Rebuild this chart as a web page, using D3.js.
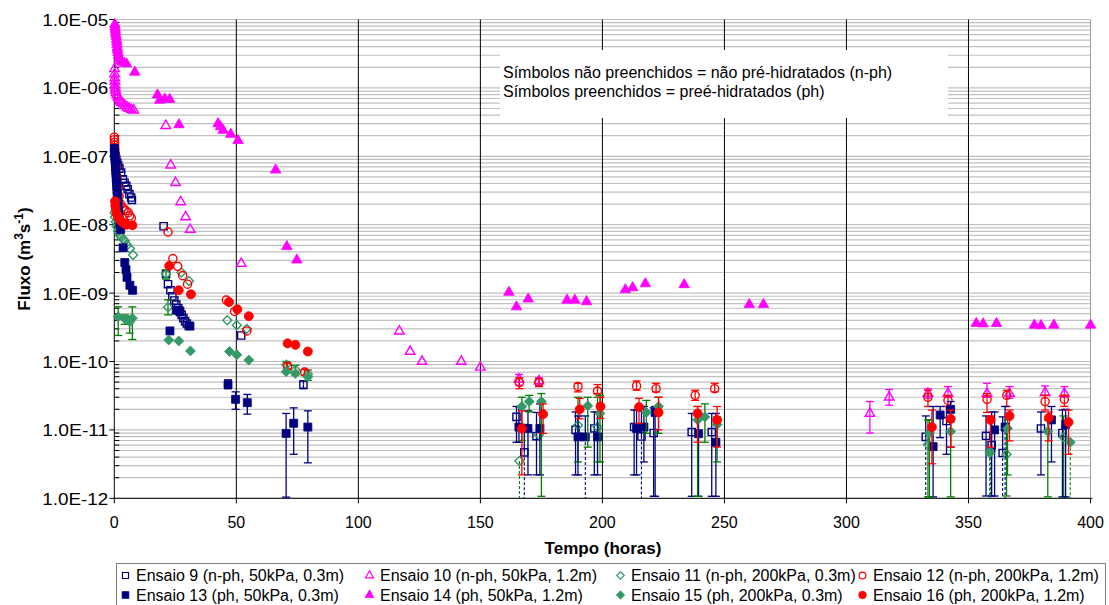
<!DOCTYPE html>
<html><head><meta charset="utf-8">
<script src="https://cdn.jsdelivr.net/npm/d3@7"></script>
<style>body{margin:0;background:#fff} text{font-family:"Liberation Sans",Arial,sans-serif}</style>
</head><body><svg id="c" width="1109" height="605"></svg>
<script>
// ---- data: [tempo (h), fluxo, erroInferior, erroSuperior]; erroInferior 0 = abaixo do eixo
const ensaio9 = [[0.2,1.15e-7],[0.5,1.0e-7],[0.8,9e-8],[1.2,8e-8],[1.6,7.3e-8],[2.1,6.6e-8],[2.8,5.8e-8],[3.5,4.6e-8],[4.2,4.1e-8],[4.9,3.7e-8],[5.5,3.3e-8],[6.2,2.8e-8],[6.9,2.5e-8],[7.2,2.3e-8],
 [20.2,9.5e-9],[21.2,1.9e-9],[22,1.35e-9],[23,1.1e-9],[23.8,9e-10],[24.6,7.8e-10],[25.4,6.8e-10],[26.2,6e-10],[26.9,5.3e-10],[27.6,4.8e-10],[28.3,4.3e-10],[29,3.9e-10],[29.7,3.6e-10],[30.5,3.3e-10],[52,2.4e-10],[77.5,4.6e-11,4.0e-11,5.2e-11],
 [164.8,1.55e-11,6.6e-12,2.2e-11],[168,4.7e-12,0,1.2e-11],[173,8.1e-12,2.2e-12,1.8e-11],[189,1.0e-11,2.2e-12,1.83e-11],[196.7,1.05e-11,2.2e-12,1.83e-11],[213,1.1e-11,2.2e-12,1.95e-11],[216,8e-12,0,2.2e-11],[221,9e-12,1.07e-12,2.1e-11],[236.6,9.3e-12,1.07e-12,1.74e-11],[244.8,9.3e-12,1.07e-12,1.74e-11],
 [332.5,7.9e-12,0,1.6e-11],[341,1.35e-11,4.4e-12,2.2e-11],[357.2,8.2e-12,1.08e-12,1.6e-11],[359.5,6e-12,1.08e-12,1.83e-11],[364,4.6e-12,0,1.55e-11],[379.7,1.05e-11,2.2e-12,1.83e-11],[388.5,9e-12,1.05e-12,1.95e-11]];
const ensaio10 = [[0.1,1.9e-6],[0.15,1.6e-6],[0.2,1.4e-6],[0.25,1.25e-6],[0.3,1.1e-6],[0.4,1.0e-6],[0.5,9.2e-7],[0.7,8.5e-7],[1.0,7.9e-7],[1.5,7.3e-7],[2.0,6.8e-7],[2.5,6.4e-7],[3.0,6.1e-7],[3.7,5.8e-7],[4.4,5.5e-7],[5.2,5.2e-7],[6.0,5.0e-7],[7.0,4.8e-7],[8.0,4.7e-7],
 [21.1,2.8e-7],[23.1,7.4e-8],[25.1,4.1e-8],[27.2,2.15e-8],[29.2,1.3e-8],[31.1,8.5e-9],[52,2.7e-9],
 [116.8,2.77e-10],[121.2,1.4e-10],[126.1,1.0e-10],[142.2,1.0e-10],[150,8.2e-11],[165.8,5.5e-11,4.5e-11,6.5e-11],[174,5.2e-11,4.5e-11,5.8e-11],
 [309.6,1.74e-11,9e-12,2.6e-11],[317.5,3.0e-11,2.3e-11,3.9e-11],[333.4,3.4e-11,2.9e-11,4.0e-11],[341.6,3.4e-11,3.0e-11,4.3e-11],[357.6,3.4e-11,3.0e-11,4.8e-11],[366.8,3.4e-11,2.9e-11,4.3e-11],[381.4,3.5e-11,3.2e-11,4.4e-11],[389.3,3.4e-11,3.0e-11,4.3e-11]];
const ensaio11 = [[0.1,1.5e-8],[0.3,1.3e-8],[0.6,1.1e-8],[1.0,9.3e-9],[1.5,8e-9],[2.2,7e-9],[3,6.5e-9],[3.6,6.2e-9],[4.3,5.8e-9],[5.3,5e-9],[6.4,4.5e-9],[7.7,3.6e-9],
 [21.2,1.9e-9,1.6e-9,2.2e-9],[22,6.2e-10,4.8e-10,8e-10],[27.5,2.0e-9],[30.6,1.5e-9],[46.3,4e-10],[50.2,3.4e-10],[54.3,3.0e-10],[70.5,9e-11,7e-11,1.0e-10],[74.2,7.5e-11,6.3e-11,8.8e-11],[79.3,6.5e-11,5.3e-11,7.5e-11],
 [166,3.5e-12,0,null],[174,8.5e-12],[190,1.17e-11,3.4e-12,3e-11],[198,1.1e-11,3.4e-12,3e-11],[333.4,6.1e-12,1.05e-12,1.4e-11],[359,4.8e-12,0,null],[365.6,4.4e-12,1.08e-12,1.0e-11],[389,7.8e-12,1.05e-12,1.6e-11]];
const ensaio12 = [[0.0,1.9e-7],[0.05,1.75e-7],[0.1,1.6e-7],[0.15,1.45e-7],[0.2,1.3e-7],[0.3,1.15e-7],[0.5,9.5e-8],[0.8,7e-8],[1.2,5e-8],[1.6,3.5e-8],[2.0,2.6e-8],[2.6,2.0e-8],[3.3,1.8e-8],[4.0,1.7e-8],[4.8,1.6e-8],[5.7,1.5e-8],[6.3,1.35e-8],[7.0,1.25e-8],
 [22,7.8e-9],[24,3.2e-9],[26,2.46e-9],[28,1.8e-9],[30,1.35e-9],[45.9,7.9e-10],[49.3,5.4e-10],[54.3,2.8e-10],[71,8.5e-11,7.8e-11,9.5e-11],[78,7e-11,6.3e-11,7.6e-11],
 [166,4.9e-11,4.0e-11,5.8e-11],[174,5.0e-11,4.3e-11,5.6e-11],[190,4.3e-11,3.6e-11,4.8e-11],[198,3.7e-11,3.4e-11,4.6e-11],[214,4.4e-11,3.8e-11,5.2e-11],[222,4.0e-11,3.6e-11,4.8e-11],[238,3.2e-11,2.7e-11,3.8e-11],[246,4.0e-11,3.6e-11,4.8e-11],
 [333.4,3.0e-11,2.2e-11,3.8e-11],[341.6,2.7e-11,2.2e-11,3.2e-11],[357.6,2.8e-11,1.8e-11,3.4e-11],[365.7,3.2e-11,2.2e-11,3.8e-11],[381.4,2.6e-11,1.95e-11,3.2e-11],[389.3,2.8e-11,2.2e-11,3.2e-11]];
const ensaio13 = [[0,1.3e-7],[0.1,1.15e-7],[0.2,1.0e-7],[0.3,9e-8],[0.4,8e-8],[0.5,7e-8],[0.6,6.2e-8],[0.7,5.5e-8],[0.8,4.8e-8],[0.9,4.2e-8],[1.0,3.7e-8],[1.1,3.2e-8],[1.2,2.8e-8],[1.4,2.4e-8],[1.6,2e-8],[1.8,1.6e-8],[2.0,1.3e-8],[2.3,1.05e-8],[2.6,8.5e-9],[3.6,4.6e-9],[4.3,2.8e-9],[4.8,2.2e-9],[5.2,1.7e-9],[6.4,1.3e-9],[7.5,1.1e-9],
 [22.8,2.8e-10],[25.4,5.6e-10],[26.8,5.5e-10],[31,3.3e-10],[46.6,4.6e-11,4.0e-11,5.4e-11],[49.7,2.8e-11,2.0e-11,3.6e-11],[54.5,2.5e-11,1.7e-11,3.3e-11],[70.4,8.9e-12,1.04e-12,1.74e-11],[73.5,1.25e-11,4.4e-12,2.1e-11],[79.3,1.1e-11,3.3e-12,1.9e-11],
 [165.8,1.1e-11,6.6e-12,2.2e-11],[169.5,1.05e-11,2.2e-12,1.9e-11],[174.4,1.05e-11,2.2e-12,2.4e-11],[190,7.9e-12,2.2e-12,1.6e-11],[193,7.9e-12,0,1.6e-11],[198,7.9e-12,2.2e-12,1.83e-11],[214,1.05e-11,2.2e-12,1.95e-11],[217,1.1e-11,3.4e-12,2.2e-11],[221.6,1.8e-11,1.07e-12,2.2e-11],[239.4,8.8e-12,1.07e-12,1.74e-11],[246.5,6.6e-12,1.07e-12,1.74e-11],
 [335.5,5.7e-12,1.05e-12,2.2e-11],[338.4,1.65e-11,7.7e-12,2.2e-11],[342.7,2.0e-11,5.6e-12,2.6e-11],[360.7,1.0e-11,1.08e-12,1.83e-11],[365,1.1e-11,0,2.2e-11],[384,1.4e-11,3.4e-12,2.2e-11],[389.8,1.2e-11,1.05e-12,2.0e-11]];
const ensaio14 = [[0.2,8.5e-6],[0.3,7.8e-6],[0.4,7.2e-6],[0.5,6.6e-6],[0.6,6.1e-6],[0.8,5.6e-6],[0.9,5.1e-6],[1.0,4.7e-6],[1.1,4.3e-6],[1.2,3.9e-6],[1.3,3.6e-6],[1.5,3.3e-6],[1.7,3.0e-6],[2.0,2.7e-6],[2.5,2.5e-6],[3.2,2.4e-6],[4.0,2.3e-6],[5.0,2.25e-6],[8.4,1.7e-6],
 [17.7,7.9e-7],[18.6,6.6e-7],[20.7,6.9e-7],[22.7,6.8e-7],[26.5,2.9e-7],[42.5,3.0e-7],[43.5,2.7e-7],[44.6,2.4e-7],[47.7,2.1e-7],[50.7,1.7e-7],[66.1,6.3e-8],[70.7,4.8e-9],[74.8,3.05e-9],
 [161.7,1.03e-9],[164.8,6.3e-10],[169.6,8.2e-10],[185.5,7.9e-10],[188.7,7.9e-10],[193.5,7.5e-10],[209.4,1.12e-9],[212.4,1.2e-9],[217.6,1.37e-9],[233.5,1.33e-9],[260.2,6.8e-10],[266,6.8e-10],
 [353.2,3.6e-10],[356,3.55e-10],[361.5,3.6e-10],[377,3.4e-10],[379.7,3.35e-10],[385,3.4e-10],[400,3.4e-10]];
const ensaio15 = [[1.6,4.5e-10,2.4e-10,6.3e-10],[4.3,4.2e-10,3.5e-10,4.8e-10],[6.3,3.8e-10,2.6e-10,4.6e-10],[7.4,4.3e-10,2.1e-10,6.3e-10],
 [22.3,2.06e-10],[26.4,2.0e-10],[31.2,1.43e-10],[47.2,1.4e-10],[50.2,1.25e-10],[55.1,1.05e-10],[70.4,7.1e-11],[74.2,6.7e-11],[79.3,6.0e-11],
 [167,2.2e-11,7e-12,3e-11],[170,2.6e-11,1.83e-11,3.2e-11],[175,2.6e-11,1.07e-12,3.4e-11],[194,2.25e-11,5.6e-12,3.0e-11],[199,1.74e-11,3.4e-12,3.2e-11],[218,1.8e-11,8.9e-12,2.7e-11],[223,2.2e-11,8.9e-12,3.0e-11],[239,1.4e-11,1.07e-12,2.2e-11],[242,1.55e-11,6.6e-12,2.4e-11],[247,1.2e-11,3.4e-12,1.55e-11],
 [334,9e-12,1.05e-12,1.4e-11],[342.7,9.5e-12,1.05e-12,1.3e-11],[358.7,4.6e-12,0,null],[366,1.05e-11,2.2e-12,1.4e-11],[382.5,9.5e-12,1.05e-12,1.4e-11],[391.7,6.6e-12,0,null]];
const ensaio16 = [[0.3,2.2e-8],[0.4,1.9e-8],[0.6,1.65e-8],[1.0,1.45e-8],[1.5,1.3e-8],[2.2,1.2e-8],[3.0,1.1e-8],[4.0,1.05e-8],[5.0,1.0e-8],[7.4,9.8e-9],
 [22.5,2.5e-9],[26.4,1.1e-9],[31.4,9.6e-10],[47,7.4e-10],[50.4,5.8e-10],[55.1,4.6e-10],[71,1.84e-10],[74.2,1.75e-10],[79.3,1.4e-10],
 [167,1.05e-11,2.2e-12,1.9e-11],[175.7,1.7e-11,8.9e-12,2.4e-11],[190.7,2.0e-11,1.45e-11,2.9e-11],[199.2,2.2e-11,1.47e-11,3.0e-11],[215,2.15e-11,1.24e-11,2.9e-11],[223,1.8e-11,1.0e-11,3.0e-11],[239,1.74e-11,6.6e-12,2.2e-11],[247,1.4e-11,5.6e-12,2.2e-11],
 [335,1.1e-11,3.2e-12,1.95e-11],[342.7,1.45e-11,5.6e-12,1.95e-11],[359,1.4e-11,5.6e-12,1.6e-11],[366.8,1.6e-11,6.9e-12,1.95e-11],[382.9,1.5e-11,6.9e-12,1.83e-11],[391,1.3e-11,4.4e-12,1.95e-11]];

const legendLabels = ["Ensaio 9 (n-ph, 50kPa, 0.3m)","Ensaio 10 (n-ph, 50kPa, 1.2m)","Ensaio 11 (n-ph, 200kPa, 0.3m)","Ensaio 12 (n-ph, 200kPa, 1.2m)",
  "Ensaio 13 (ph, 50kPa, 0.3m)","Ensaio 14 (ph, 50kPa, 1.2m)","Ensaio 15 (ph, 200kPa, 0.3m)","Ensaio 16 (ph, 200kPa, 1.2m)"];
const xTicks = [0,50,100,150,200,250,300,350,400];
const yTickValues = [1e-12,1e-11,1e-10,1e-9,1e-8,1e-7,1e-6,1e-5];
const yTickLabels = ["1.0E-12","1.0E-11","1.0E-10","1.0E-09","1.0E-08","1.0E-07","1.0E-06","1.0E-05"];
const noteLines = ["Símbolos não preenchidos = não pré-hidratados (n-ph)","Símbolos preenchidos = preé-hidratados (ph)"];
const xTitle = "Tempo (horas)";

// ---- rendering
const svg = d3.select("#c");
const x = d3.scaleLinear().domain([0,400]).range([114.3,1090.5]);
const y = d3.scaleLog().domain([1e-12,1e-5]).range([498.3,19.5]);
const [X0,X1] = x.range(), [Y0,Y1] = y.range();

const NAVY="#000080", MAG="#FF00FF", SEA="#339966", GRN="#008000", RED="#FF0000";
const excelDiamond = { draw(ctx, size) { const r = Math.sqrt(size/2); ctx.moveTo(0,-r); ctx.lineTo(r,0); ctx.lineTo(0,r); ctx.lineTo(-r,0); ctx.closePath(); } };
const seriesDefs = [
  {data:ensaio9,  shape:d3.symbolSquare,   size:52, filled:false, color:NAVY, err:NAVY},
  {data:ensaio10, shape:d3.symbolTriangle, size:40, filled:false, color:MAG,  err:MAG},
  {data:ensaio11, shape:excelDiamond,      size:40, filled:false, color:SEA,  err:GRN},
  {data:ensaio12, shape:d3.symbolCircle,   size:52, filled:false, color:RED,  err:RED},
  {data:ensaio13, shape:d3.symbolSquare,   size:64, filled:true,  color:NAVY, err:NAVY},
  {data:ensaio14, shape:d3.symbolTriangle, size:48, filled:true,  color:MAG,  err:MAG},
  {data:ensaio15, shape:excelDiamond,      size:50, filled:true,  color:SEA,  err:GRN},
  {data:ensaio16, shape:d3.symbolCircle,   size:64, filled:true,  color:RED,  err:RED},
];

// minor horizontal grid
const gridVals = [];
for (let e=-12; e<-5; e++) for (let k=1; k<=9; k++) gridVals.push(k*Math.pow(10,e));
gridVals.push(1e-5);
svg.append("g").selectAll("line").data(gridVals).join("line")
  .attr("x1",X0).attr("x2",X1).attr("y1",d=>y(d)).attr("y2",d=>y(d))
  .attr("stroke","#c0c0c0").attr("stroke-width",1.2);
svg.append("line").attr("x1",X1).attr("x2",X1).attr("y1",Y1).attr("y2",Y0).attr("stroke","#a0a0a0");
svg.append("g").selectAll("line").data(xTicks.filter(t=>t>0&&t<400)).join("line")
  .attr("x1",d=>x(d)).attr("x2",d=>x(d)).attr("y1",Y1).attr("y2",Y0).attr("stroke","#000").attr("stroke-width",1);

// note box
svg.append("rect").attr("x",500).attr("y",50).attr("width",448).attr("height",68).attr("fill","#fff");
svg.append("g").selectAll("text").data(noteLines).join("text")
  .attr("x",503).attr("y",(d,i)=>78+i*18.5).attr("font-size",16).attr("fill","#000").text(d=>d);

// axes
const yAxis = svg.append("g");
yAxis.append("line").attr("x1",X0).attr("x2",X0).attr("y1",Y1).attr("y2",Y0).attr("stroke","#000");
yAxis.selectAll(".maj").data(yTickValues).join("line").attr("class","maj")
  .attr("x1",X0-5).attr("x2",X0).attr("y1",d=>y(d)).attr("y2",d=>y(d)).attr("stroke","#000");
yAxis.selectAll(".min").data(gridVals.filter(v=>!yTickValues.includes(v))).join("line").attr("class","min")
  .attr("x1",X0).attr("x2",X0+5).attr("y1",d=>y(d)).attr("y2",d=>y(d)).attr("stroke","#000");
yAxis.selectAll("text").data(yTickValues).join("text")
  .attr("x",X0-6).attr("y",d=>y(d)+6.5).attr("text-anchor","end").attr("font-size",16)
  .attr("textLength",66).attr("lengthAdjust","spacingAndGlyphs")
  .text((d,i)=>yTickLabels[i]);

const xAxis = svg.append("g");
xAxis.append("line").attr("x1",X0).attr("x2",X1+2).attr("y1",Y0).attr("y2",Y0).attr("stroke","#000");
xAxis.selectAll("line.t").data(xTicks).join("line").attr("class","t")
  .attr("x1",d=>x(d)).attr("x2",d=>x(d)).attr("y1",Y0).attr("y2",Y0+5).attr("stroke","#000");
xAxis.selectAll("text").data(xTicks).join("text")
  .attr("x",d=>x(d)).attr("y",Y0+30).attr("text-anchor","middle").attr("font-size",16).text(d=>d);

svg.append("text").attr("x",603).attr("y",554).attr("text-anchor","middle")
  .attr("font-size",17).attr("font-weight","bold").text(xTitle);
const yt = svg.append("text").attr("transform","translate(30,259) rotate(-90)")
  .attr("text-anchor","middle").attr("font-size",17).attr("font-weight","bold");
yt.append("tspan").text("Fluxo (m");
yt.append("tspan").attr("font-size",12).attr("dy",-7).text("3");
yt.append("tspan").attr("dy",7).text("s");
yt.append("tspan").attr("font-size",12).attr("dy",-7).text("-1");
yt.append("tspan").attr("dy",7).text(")");

// series
const plot = svg.append("g");
seriesDefs.forEach(s => {
  const g = plot.append("g");
  s.data.filter(d => d.length > 2).forEach(d => {
    const [t,v,lo,hi] = d, cx = x(t);
    if (hi != null) {
      g.append("line").attr("x1",cx).attr("x2",cx).attr("y1",y(v)).attr("y2",y(hi)).attr("stroke",s.err).attr("stroke-width",1.3);
      g.append("line").attr("x1",cx-4).attr("x2",cx+4).attr("y1",y(hi)).attr("y2",y(hi)).attr("stroke",s.err).attr("stroke-width",1.3);
    }
    if (lo === 0) {
      g.append("line").attr("x1",cx).attr("x2",cx).attr("y1",y(v)).attr("y2",Y0).attr("stroke",s.err).attr("stroke-width",1.1).attr("stroke-dasharray","3,2");
    } else if (lo != null) {
      const ly = y(Math.max(lo,1.02e-12));
      g.append("line").attr("x1",cx).attr("x2",cx).attr("y1",y(v)).attr("y2",ly).attr("stroke",s.err).attr("stroke-width",1.3);
      g.append("line").attr("x1",cx-4).attr("x2",cx+4).attr("y1",ly).attr("y2",ly).attr("stroke",s.err).attr("stroke-width",1.3);
    }
  });
  const sym = d3.symbol().type(s.shape).size(s.size);
  g.selectAll("path").data(s.data).join("path")
    .attr("transform", d => `translate(${x(d[0])},${y(d[1])})`)
    .attr("d", sym)
    .attr("fill", s.filled ? s.color : "none")
    .attr("stroke", s.color).attr("stroke-width", s.filled ? 0.8 : 1.4);
});

// legend
const lg = svg.append("g");
lg.append("rect").attr("x",116.5).attr("y",563.5).attr("width",989).attr("height",60)
  .attr("fill","#fff").attr("stroke","#808080").attr("stroke-width",1);
const colX = [125.5,369.5,620.5,862.5];
legendLabels.forEach((lab,i) => {
  const s = seriesDefs[i], col = i%4, row = Math.floor(i/4);
  const base = 581 + row*19.5;
  lg.append("path").attr("transform",`translate(${colX[col]},${base-5.5})`)
    .attr("d", d3.symbol().type(s.shape).size(s.size*0.7))
    .attr("fill", s.filled ? s.color : "none").attr("stroke", s.color).attr("stroke-width", s.filled?0.8:1.2);
  lg.append("text").attr("x",colX[col]+10.5).attr("y",base).attr("font-size",16).text(lab);
});
</script></body></html>
